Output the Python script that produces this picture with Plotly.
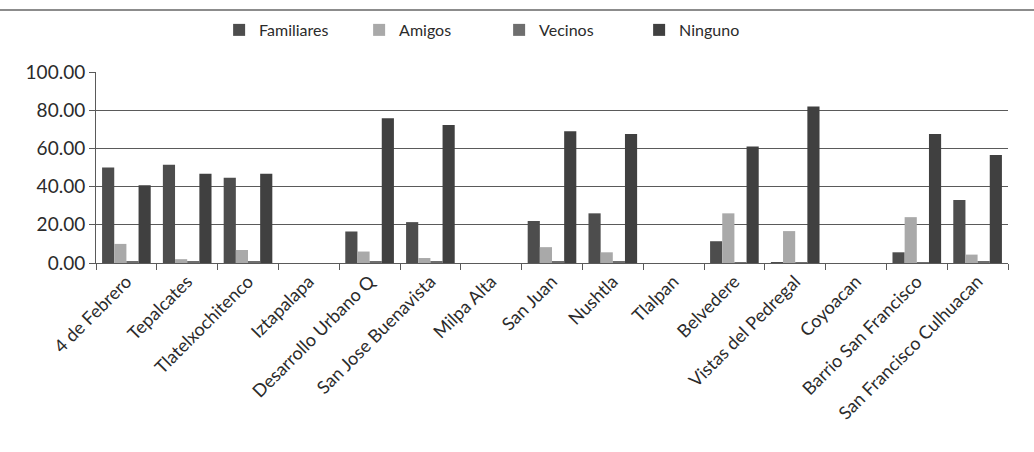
import plotly.graph_objects as go

categories = ["4 de Febrero", "Tepalcates", "Tlatelxochitenco", "Iztapalapa",
              "Desarrollo Urbano Q", "San Jose Buenavista", "Milpa Alta", "San Juan",
              "Nushtla", "Tlalpan", "Belvedere", "Vistas del Pedregal", "Coyoacan",
              "Barrio San Francisco", "San Francisco Culhuacan"]

familiares = [50.0, 51.5, 44.6, 0, 16.5, 21.4, 0, 22.0, 26.0, 0, 11.4, 0.5, 0, 5.6, 33.0]
amigos     = [10.0, 2.0, 6.8, 0, 6.0, 2.6, 0, 8.3, 5.6, 0, 26.0, 16.7, 0, 24.0, 4.4]
vecinos    = [0.8, 0.8, 0.8, 0, 0.8, 0.8, 0, 0.8, 0.8, 0, 0.5, 0.5, 0, 0.5, 0.8]
ninguno    = [40.7, 46.7, 46.7, 0, 75.8, 72.3, 0, 69.0, 67.5, 0, 61.0, 82.0, 0, 67.5, 56.5]

y_ticks = [0, 20, 40, 60, 80, 100]
y_tick_labels = ["0.00", "20.00", "40.00", "60.00", "80.00", "100.00"]

series = [
    ("Familiares", familiares, "#4d4d4d"),
    ("Amigos", amigos, "#a9a9a9"),
    ("Vecinos", vecinos, "#6e6e6e"),
    ("Ninguno", ninguno, "#404040"),
]

fig = go.Figure()
for name, vals, color in series:
    fig.add_trace(go.Bar(
        x=categories, y=vals, name=name,
        marker=dict(color=color, line=dict(width=0)),
    ))

fig.update_layout(
    width=1034, height=452,
    margin=dict(l=96, r=26, t=72, b=189),
    paper_bgcolor="white", plot_bgcolor="white",
    barmode="group", bargap=0.2, bargroupgap=0.0,
    font=dict(family="Lato, 'Open Sans', sans-serif", color="#2b2b2b"),
    legend=dict(orientation="h", x=0.135, xanchor="left", y=1.22, yanchor="middle",
                font=dict(size=16, color="#2b2b2b"), itemwidth=30,
                entrywidth=95, entrywidthmode="pixels",
                traceorder="normal"),
    showlegend=True,
)
fig.update_yaxes(
    range=[0, 100], tickvals=y_ticks, ticktext=y_tick_labels,
    showgrid=True, gridcolor="#5a5a5a", gridwidth=1.2,
    showline=True, linecolor="#5a5a5a", ticks="outside", ticklen=6,
    tickcolor="#5a5a5a", tickfont=dict(size=19, color="#2b2b2b"),
    zeroline=False,
)
fig.update_xaxes(
    tickangle=-45, showline=True, linecolor="#5a5a5a",
    ticks="outside", ticklen=6, tickcolor="#5a5a5a",
    tickson="boundaries",
    tickfont=dict(size=18, color="#2b2b2b"),
)
fig.add_shape(type="line", xref="paper", yref="paper", x0=-0.6, x1=1.05,
              y0=(263 - 10) / 191, y1=(263 - 10) / 191,
              line=dict(color="#666666", width=1.5))

fig.write_html("out.html")
